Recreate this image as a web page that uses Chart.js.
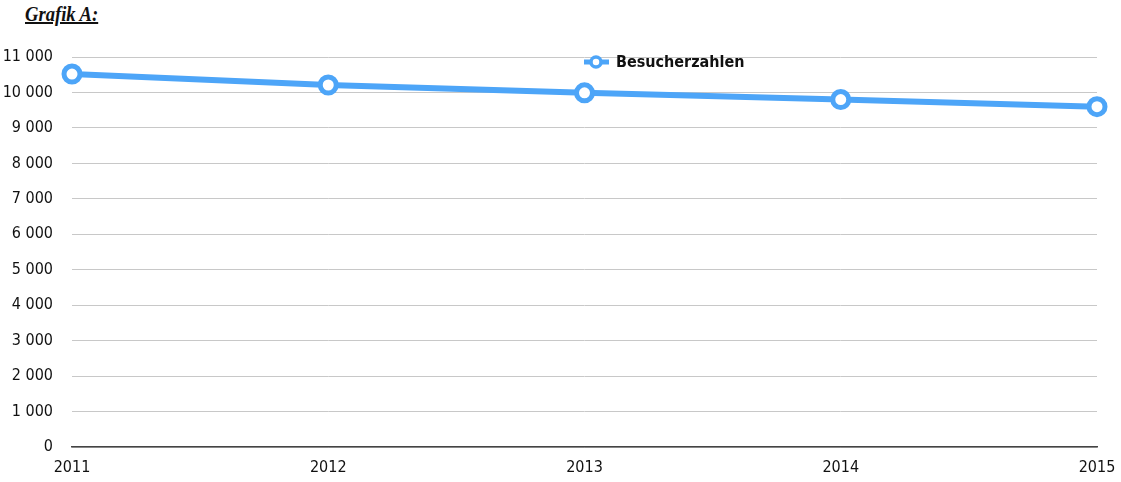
<!DOCTYPE html>
<html>
<head>
<meta charset="utf-8">
<script src="https://cdn.jsdelivr.net/npm/chart.js@4"></script>
<style>
  html, body { margin: 0; padding: 0; background: #fff; }
  #wrap { position: relative; width: 1121px; height: 482px; }
  #title {
    position: absolute; left: 25px; top: 3px;
    font-family: 'Liberation Serif', 'Times New Roman', serif;
    font-weight: bold; font-style: italic; font-size: 20px;
    transform: scaleX(0.93); transform-origin: left top;
    text-decoration: underline; color: #111;
  }
  canvas { position: absolute; left: 0; top: 0; }
</style>
</head>
<body>
<div id="wrap">
  <div id="title">Grafik A:</div>
  <canvas id="lineChart" width="1121" height="482"></canvas>
</div>
<script>
// chart values
const years = ['2011', '2012', '2013', '2014', '2015'];
const visitors = [10520, 10210, 9990, 9800, 9600];
const seriesLabel = 'Besucherzahlen';

const LINE_BLUE = '#4da5f8';
const TICK_FONT = "'Liberation Sans Narrow', 'Arial Narrow', 'DejaVu Sans Condensed', 'Liberation Sans', sans-serif";

function fmtThousands(v) {
    return String(v).replace(/\B(?=(\d{3})+(?!\d))/g, ' ');
}

// legend drawn by hand: line + ring marker + bold label
const lineLegend = {
    id: 'lineLegend',
    afterDraw(chart) {
        const ctx = chart.ctx;
        const ds = chart.data.datasets[0];
        const cx = 596, cy = 62;
        ctx.save();
        ctx.strokeStyle = ds.borderColor;
        ctx.lineWidth = 5;
        ctx.beginPath();
        ctx.moveTo(584, cy);
        ctx.lineTo(609, cy);
        ctx.stroke();
        ctx.fillStyle = '#fff';
        ctx.lineWidth = 3.5;
        ctx.beginPath();
        ctx.arc(cx, cy, 5, 0, Math.PI * 2);
        ctx.fill();
        ctx.stroke();
        ctx.fillStyle = '#111';
        ctx.font = "bold 16px " + TICK_FONT;
        ctx.textBaseline = 'middle';
        ctx.fillText(ds.label, 616, cy + 1);
        ctx.restore();
    }
};

new Chart(document.getElementById('lineChart'), {
    type: 'line',
    data: {
        labels: years,
        datasets: [{
            label: seriesLabel,
            data: visitors,
            borderColor: LINE_BLUE,
            borderWidth: 6,
            pointRadius: 8,
            pointBorderWidth: 5,
            pointBackgroundColor: '#fff',
            pointBorderColor: LINE_BLUE,
            tension: 0,
            clip: false
        }]
    },
    options: {
        responsive: false,
        animation: false,
        layout: { padding: { left: 0, right: 24, top: 57, bottom: 0 } },
        plugins: {
            legend: { display: false },
            tooltip: { enabled: false }
        },
        scales: {
            x: {
                offset: false,
                grid: { display: false, drawTicks: false },
                border: { display: true, color: '#444', width: 1.5 },
                ticks: {
                    color: '#111',
                    padding: 11,
                    maxRotation: 0,
                    font: { family: TICK_FONT, size: 16 }
                },
                afterFit(scale) {
                    scale.height = 35;
                    scale.paddingLeft = 0;
                    scale.paddingRight = 0;
                }
            },
            y: {
                min: 0,
                max: 11000,
                grid: { color: '#c8c8c8', lineWidth: 1, drawTicks: false },
                border: { display: false },
                ticks: {
                    stepSize: 1000,
                    color: '#111',
                    padding: 19,
                    font: { family: TICK_FONT, size: 16 },
                    callback: (v) => fmtThousands(v)
                },
                afterFit(scale) { scale.width = 72; }
            }
        }
    },
    plugins: [lineLegend]
});
</script>
</body>
</html>
